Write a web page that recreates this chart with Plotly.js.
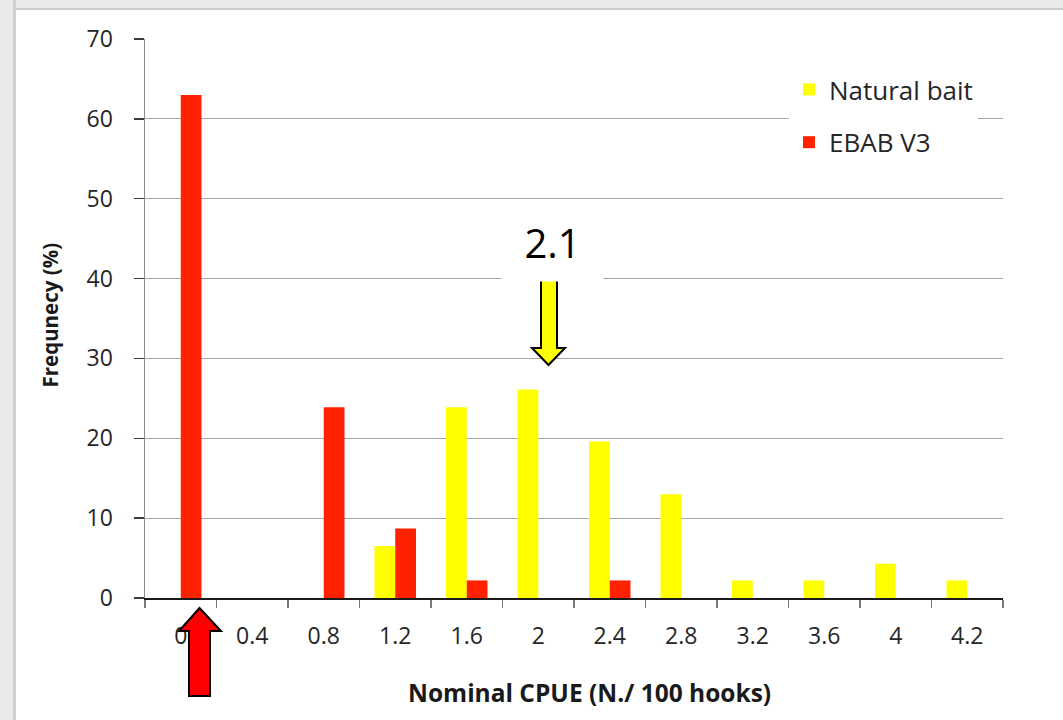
<!DOCTYPE html>
<html>
<head>
<meta charset="utf-8">
<script src="https://cdn.plot.ly/plotly-3.0.1.min.js"></script>
<style>
  html, body { margin: 0; padding: 0; background: #ffffff; }
  #chart { width: 1063px; height: 720px; }
  .frame-top { position: absolute; left: 0; top: 0; width: 1063px; height: 8px; background: #e9e9e9; border-bottom: 2px solid #cdcdcd; pointer-events: none; }
  .frame-left { position: absolute; left: 0; top: 0; width: 13px; height: 720px; background: #e9e9e9; border-right: 3px solid #cfcfcf; pointer-events: none; }
</style>
</head>
<body>
<div id="chart"></div>
<div class="frame-top"></div>
<div class="frame-left"></div>
<script>
// ---- data ----
const categories = ['0', '0.4', '0.8', '1.2', '1.6', '2', '2.4', '2.8', '3.2', '3.6', '4', '4.2'];
const naturalBait = [0, 0, 0, 6.5, 23.9, 26.1, 19.6, 13.0, 2.2, 2.2, 4.3, 2.2];
const ebabV3 = [63.0, 0, 23.9, 8.7, 2.2, 0, 2.2, 0, 0, 0, 0, 0];
const seriesNames = ['Natural bait', 'EBAB V3'];
const yTicks = [0, 10, 20, 30, 40, 50, 60, 70];
const markerLabel = '2.1';
const xTitle = 'Nominal CPUE (N./ 100 hooks)';
const yTitle = 'Frequnecy (%)';

// ---- layout helpers ----
const W = 1063, H = 720;
const M = { l: 145, r: 60, t: 39, b: 122 };
const plotW = W - M.l - M.r, plotH = H - M.t - M.b;
const px = x => (x - M.l) / plotW;          // pixel -> paper x
const py = y => (H - M.b - y) / plotH;      // pixel -> paper y
function pathFromPixels(pts) {
  return 'M' + pts.map(p => px(p[0]).toFixed(5) + ',' + py(p[1]).toFixed(5)).join(' L') + ' Z';
}

const font = 'Open Sans, sans-serif';

const traces = [
  { type: 'bar', name: seriesNames[0], x: categories, y: naturalBait,
    marker: { color: '#FFFF00', line: { width: 0 } }, legendgroup: 'a', hoverinfo: 'x+y' },
  { type: 'bar', name: seriesNames[1], x: categories, y: ebabV3,
    marker: { color: '#FF2100', line: { width: 0 } }, legendgroup: 'b', hoverinfo: 'x+y' }
];

const layout = {
  width: W, height: H,
  margin: M,
  paper_bgcolor: '#ffffff',
  plot_bgcolor: '#ffffff',
  barmode: 'group',
  bargap: 0.42,
  bargroupgap: 0,
  font: { family: font, color: '#262626', size: 23 },
  showlegend: true,
  legend: {
    x: px(789), y: py(66), xanchor: 'left', yanchor: 'top',
    bgcolor: '#ffffff', borderwidth: 0,
    font: { family: font, size: 26, color: '#262626' },
    traceorder: 'grouped', tracegroupgap: 16
  },
  xaxis: {
    type: 'category',
    tickmode: 'array', tickvals: categories, ticktext: categories,
    tickson: 'boundaries',
    ticks: 'outside', ticklen: 8, tickwidth: 1.5, tickcolor: '#7a7a7a',
    showline: true, linecolor: '#1a1a1a', linewidth: 1.5,
    showgrid: false, zeroline: false,
    tickfont: { family: font, size: 23, color: '#262626' },
    ticklabelstandoff: 17,
    automargin: false, fixedrange: true
  },
  yaxis: {
    range: [0, 70],
    tickmode: 'array', tickvals: yTicks,
    ticks: 'outside', ticklen: 10, tickwidth: 1.5, tickcolor: '#3a3a3a',
    showline: true, linecolor: '#8a8a8a', linewidth: 1.5,
    showgrid: true, gridcolor: '#a6a6a6', gridwidth: 1.2,
    zeroline: false,
    tickfont: { family: font, size: 23, color: '#262626' },
    ticklabelstandoff: 16,
    automargin: false, fixedrange: true
  },
  annotations: [
    { // x-axis title
      xref: 'paper', yref: 'paper', x: px(589), y: py(693), xanchor: 'center', yanchor: 'middle',
      text: xTitle, showarrow: false,
      font: { family: font, size: 24.5, color: '#1a1a1a', weight: 'bold' }
    },
    { // y-axis title
      xref: 'paper', yref: 'paper', x: px(49), y: py(315.5), xanchor: 'center', yanchor: 'middle',
      text: yTitle, showarrow: false, textangle: -90,
      font: { family: font, size: 20.5, color: '#1a1a1a', weight: 'bold' }
    },
    {
      xref: 'paper', yref: 'paper',
      x: px(552.5), y: py(242), xanchor: 'center', yanchor: 'middle',
      text: markerLabel, showarrow: false,
      font: { family: font, size: 40, color: '#000000' },
      bgcolor: '#ffffff', borderpad: 0, width: 101, height: 77
    }
  ],
  shapes: [
    { // yellow down arrow
      type: 'path', xref: 'paper', yref: 'paper', layer: 'above',
      path: pathFromPixels([[541, 277], [557, 277], [557, 348], [565, 348], [548.5, 365], [532, 348], [541, 348]]),
      fillcolor: '#FFFF00', line: { color: '#000000', width: 2 }
    },
    { // red up arrow
      type: 'path', xref: 'paper', yref: 'paper', layer: 'above',
      path: pathFromPixels([[199.5, 608], [221, 631], [210, 631], [210, 696], [189, 696], [189, 631], [179, 631]]),
      fillcolor: '#FF0000', line: { color: '#000000', width: 2 }
    }
  ]
};

Plotly.newPlot('chart', traces, layout, { displayModeBar: false, staticPlot: true });
</script>
</body>
</html>
